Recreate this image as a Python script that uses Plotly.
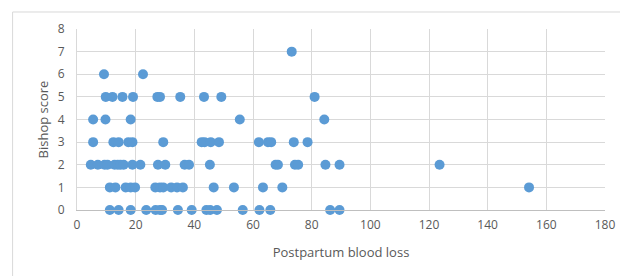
import plotly.graph_objects as go

# Postpartum blood loss (x) grouped by Bishop score (y)
blood_loss_7 = [73.2]
blood_loss_6 = [9.2, 22.5]
blood_loss_5 = [9.8, 12.1, 15.5, 19.1, 27.4, 28.3, 35.2, 43.3, 49.2, 81.0]
blood_loss_4 = [5.5, 9.7, 18.3, 55.5, 84.3]
blood_loss_3 = [5.5, 12.4, 14.2, 17.5, 18.9, 29.4, 42.5, 43.5, 45.6, 48.4, 62.0, 65.1, 66.2, 73.9, 78.6]
blood_loss_2 = [4.7, 7.1, 9.4, 10.4, 12.8, 13.9, 14.8, 15.9, 18.9, 21.6, 27.6, 30.1, 36.7, 38.2,
                45.3, 67.7, 68.5, 74.3, 75.4, 84.7, 89.5, 123.6]
blood_loss_1 = [11.2, 13.1, 16.6, 18.3, 19.8, 26.7, 28.3, 29.4, 32.1, 34.1, 36.1, 46.6, 53.5,
                63.4, 70.0, 154.1]
blood_loss_0 = [11.2, 14.2, 18.3, 23.6, 26.8, 28.3, 29.0, 34.4, 39.1, 44.1, 45.4, 47.7, 56.5,
                62.2, 65.9, 86.3, 89.5]

groups = {7: blood_loss_7, 6: blood_loss_6, 5: blood_loss_5, 4: blood_loss_4,
          3: blood_loss_3, 2: blood_loss_2, 1: blood_loss_1, 0: blood_loss_0}

xs, ys = [], []
for score, vals in groups.items():
    xs += vals
    ys += [score] * len(vals)

x_title = "Postpartum blood loss"
y_title = "Bishop score"

fig = go.Figure(go.Scatter(
    x=xs, y=ys, mode="markers",
    marker=dict(color="#5b9bd5", size=10, line=dict(width=0)),
    hoverinfo="x+y", showlegend=False, cliponaxis=False,
))

font_fam = "'Open Sans', sans-serif"
fig.update_layout(
    width=620, height=276,
    margin=dict(l=77, r=15, t=29, b=66, autoexpand=False),
    paper_bgcolor="white", plot_bgcolor="white",
    font=dict(family=font_fam, color="#595959", size=11),
    xaxis=dict(range=[0, 180], dtick=20, showgrid=True, gridcolor="#d9d9d9", gridwidth=1,
               zeroline=False, showline=True, linecolor="#bfbfbf", linewidth=1,
               ticks="", automargin=False, ticklabelstandoff=4,
               tickfont=dict(size=12, color="#595959"),
               title=dict(text=x_title, font=dict(size=13, color="#595959"), standoff=15)),
    yaxis=dict(range=[0, 8], dtick=1, showgrid=True, gridcolor="#d9d9d9", gridwidth=1,
               zeroline=False, showline=True, linecolor="#d9d9d9", ticks="", ticklabelstandoff=9,
               automargin=False, tickfont=dict(size=12, color="#595959"),
               title=dict(text=y_title, font=dict(size=13, color="#595959"), standoff=6)),
    shapes=[dict(type="rect", xref="paper", yref="paper",
                 x0=-0.122, x1=1.2, y0=-0.5, y1=1.094,
                 line=dict(color="#d9d9d9", width=1), fillcolor="rgba(0,0,0,0)", layer="below")],
)

fig.write_html(
    "out.html",
    config={"displayModeBar": False},
    post_script="document.body.style.margin='0';document.body.style.overflow='hidden';",
)
